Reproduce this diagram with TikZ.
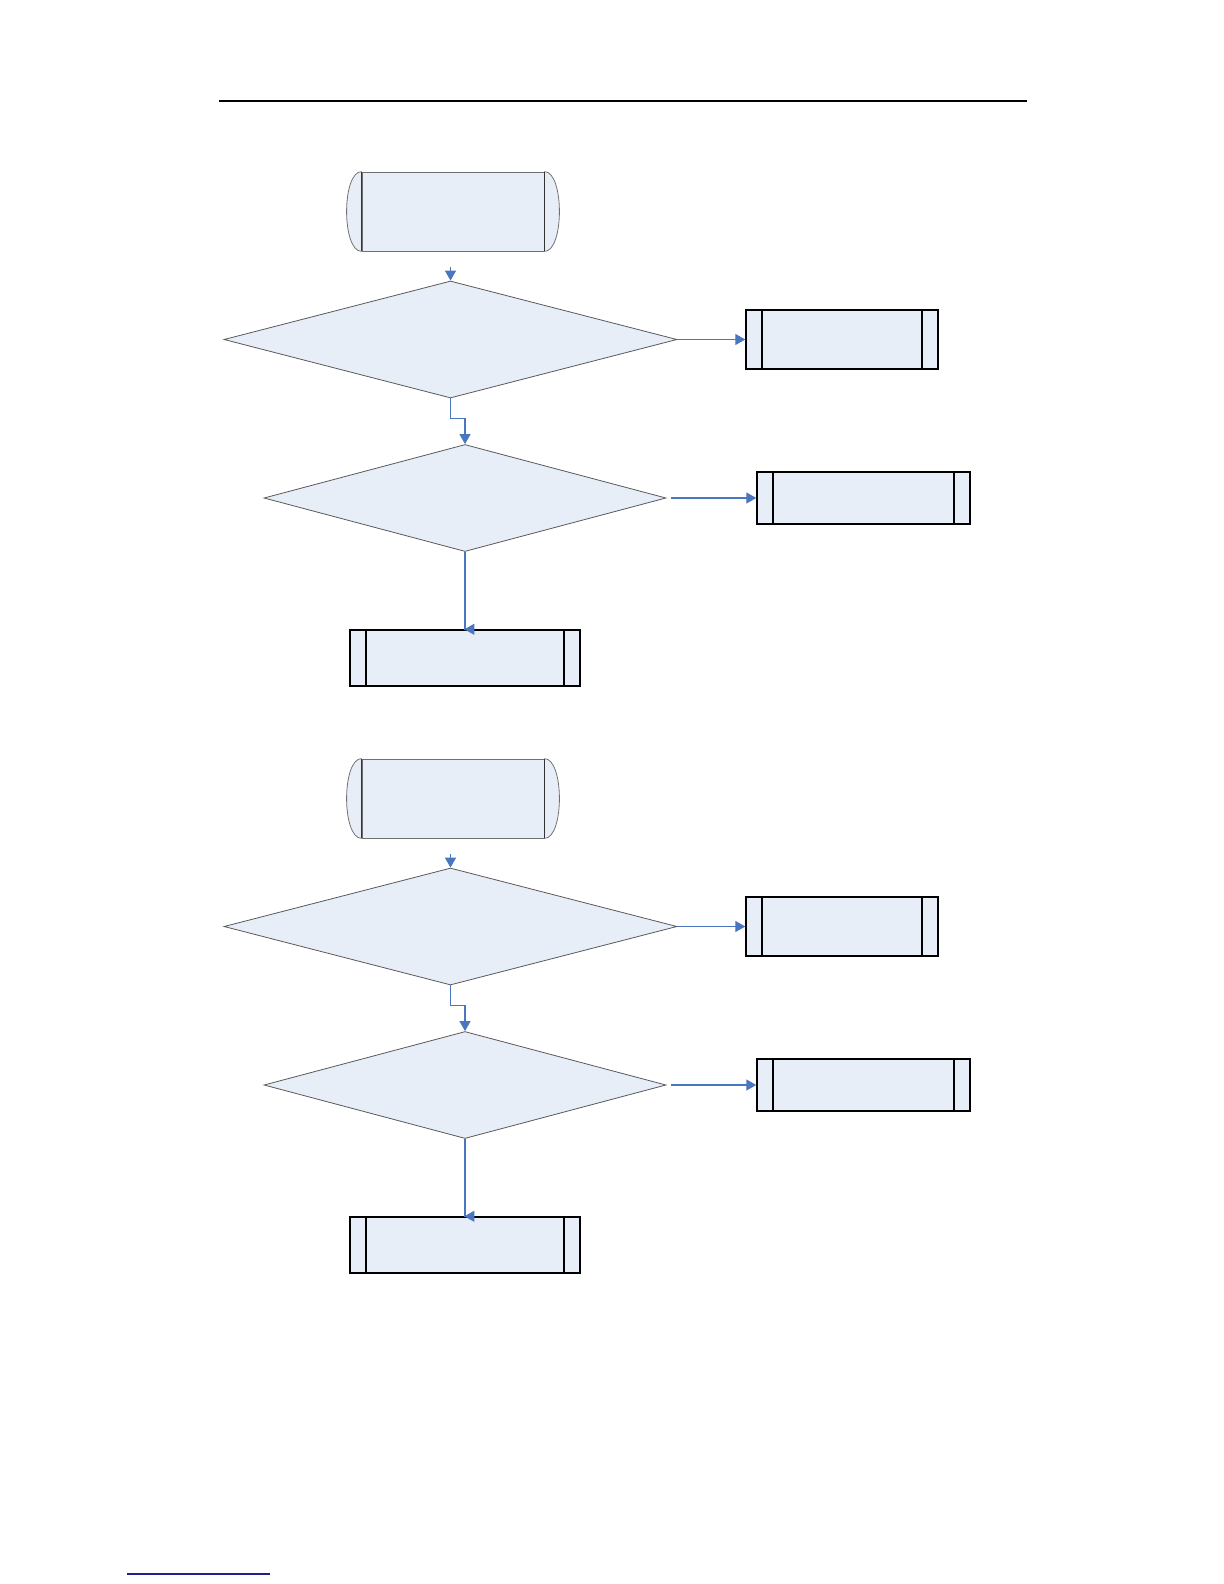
\documentclass[tikz,border=0pt]{standalone}
\usetikzlibrary{shapes.geometric,arrows.meta}
\definecolor{boxfill}{HTML}{E8EEF7}
\definecolor{flowblue}{HTML}{4A76C0}
\definecolor{rimgray}{HTML}{6F6F6F}
\definecolor{linknavy}{HTML}{1F1F8F}

\begin{document}
\begin{tikzpicture}[x=0.5bp,y=-0.5bp,
    >={Triangle[length=5bp,width=5.5bp]},
    termbox/.style={rectangle,fill=boxfill,draw=rimgray,line width=0.4bp,
      minimum width=91bp,minimum height=39.5bp,inner sep=0pt},
    termrim/.style={draw=rimgray,fill=boxfill,line width=0.4bp},
    termedge/.style={draw=black!80,line width=0.5bp},
    decision/.style={diamond,fill=boxfill,draw=black!65,line width=0.4bp,inner sep=0pt},
    procbox/.style={rectangle,fill=boxfill,draw=black,line width=0.7bp,inner sep=0pt,
      path picture={
        \draw[black,line width=0.7bp]
          ([xshift=8bp]path picture bounding box.north west) -- ([xshift=8bp]path picture bounding box.south west)
          ([xshift=-8bp]path picture bounding box.north east) -- ([xshift=-8bp]path picture bounding box.south east);
      }},
    conn/.style={flowblue,line width=0.6bp,->}]
  \useasboundingbox (0,0) rectangle (1224,1584);
  % header and footer rules
  \draw[black,line width=1bp] (219,101) -- (1027,101);
  \draw[linknavy,line width=0.6bp] (127,1574) -- (270,1574);
  \foreach \k/\dy in {1/0,2/587}{
   \begin{scope}[shift={(0,\dy)}]
    \node[termbox] (t\k) at (453,211.5) {};
    \draw[termrim] (t\k.north east) .. controls +(20,0) and +(20,0) .. (t\k.south east);
    \draw[termrim] (t\k.north west) .. controls +(-20,0) and +(-20,0) .. (t\k.south west);
    \draw[termedge] (t\k.north west) -- (t\k.south west) (t\k.north east) -- (t\k.south east);
    \node[decision,minimum width=226.5bp,minimum height=58.5bp] (d\k) at (450.5,339.5) {};
    \node[decision,minimum width=201bp,minimum height=53.5bp] (e\k) at (465,498) {};
    \node[procbox,minimum width=96bp,minimum height=29.5bp] (b\k) at (842,339.5) {};
    \node[procbox,minimum width=106.5bp,minimum height=26bp] (c\k) at (863.5,498) {};
    \node[procbox,minimum width=115bp,minimum height=28bp] (f\k) at (465,658) {};
    \draw[conn] ([yshift=7bp]d\k.north) -- (d\k.north);
    \draw[conn] (d\k.east) -- (b\k.west);
    \draw[conn] (d\k.south) -- ++(0,20) -| (e\k.north);
    \draw[conn] ([xshift=2.5bp]e\k.east) -- (c\k.west);
    \draw[conn] (e\k.south) -- (e\k.south |- f\k.north) -- ++(-0.6,0);
   \end{scope}
  }
\end{tikzpicture}
\end{document}
